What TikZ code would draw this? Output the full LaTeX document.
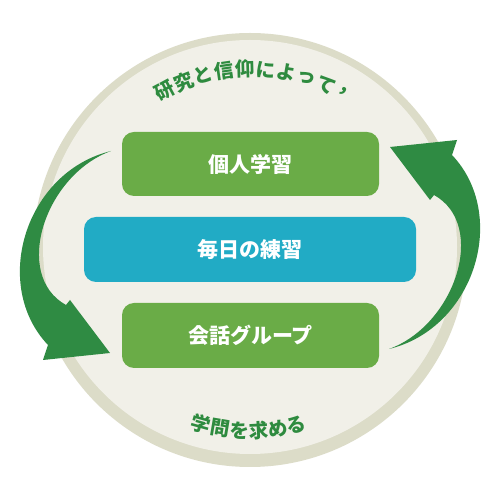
\documentclass[tikz,border=0pt]{standalone}
\usepackage{fontspec}
\newfontfamily\cjk{Noto Sans CJK JP}
\definecolor{ringc}{HTML}{DCDCC8}
\definecolor{innerc}{HTML}{F1F0E8}
\definecolor{boxg}{HTML}{6AAC47}
\definecolor{boxb}{HTML}{21ABC5}
\definecolor{arrg}{HTML}{2F8B43}
\definecolor{txtg}{HTML}{2E8B3F}
\begin{document}
\begin{tikzpicture}[x=1pt,y=1pt,
  box/.style={rounded corners=12pt, minimum height=64pt, text=white,
    font=\cjk\bfseries\fontsize{21}{21}\selectfont, inner sep=0pt},
  arctext/.style={text=txtg, font=\cjk\bfseries\fontsize{19.5}{19.5}\selectfont,
    inner sep=0pt, anchor=center},
  bigarrow/.style={fill=arrg}]
\useasboundingbox (0,0) rectangle (500,500);
\fill[white] (0,0) rectangle (500,500);
\fill[ringc] (250,250) circle (217);
\fill[innerc] (250,253) circle (207);

% boxes
\node[box, fill=boxg, minimum width=257pt] (indiv) at (250.5,336) {個人学習};
\node[box, fill=boxb, minimum width=332pt, minimum height=65pt] (daily) at (250,250.5) {毎日の練習};
\node[box, fill=boxg, minimum width=257pt, minimum height=65pt] (group) at (250.5,164.5) {会話グループ};

% left arrow
\path[bigarrow] (111,349) .. controls (25,328) and (-9,215) .. (48,155)
  -- (43,140) -- (110,147) -- (70,200) -- (66,195)
  .. controls (12,225) and (45,325) .. (111,349) -- cycle;
% right arrow (rotated copy)
\begin{scope}[rotate around={180:(250,250)}]
\path[bigarrow] (111,349) .. controls (25,328) and (-9,215) .. (48,155)
  -- (43,140) -- (110,147) -- (70,200) -- (66,195)
  .. controls (12,225) and (45,325) .. (111,349) -- cycle;
\end{scope}

% arc texts
\begin{scope}[shift={(250,250)}]
\foreach \c [count=\i from 0] in {研,究,と,信,仰,に,よ,っ,て} {
  \node[arctext, rotate={118.2-6.62*\i-90}] (top\i) at ({118.2-6.62*\i}:181) {\c};
}
\node[arctext, rotate={59.6-90}] (topc) at (59.6:184) {{,}};
\foreach \c [count=\i from 0] in {学,問,を,求,め,る} {
  \node[arctext, rotate={254.4+6.1*\i+90}] (bot\i) at ({254.4+6.1*\i}:181) {\c};
}
\end{scope}
\end{tikzpicture}
\end{document}
